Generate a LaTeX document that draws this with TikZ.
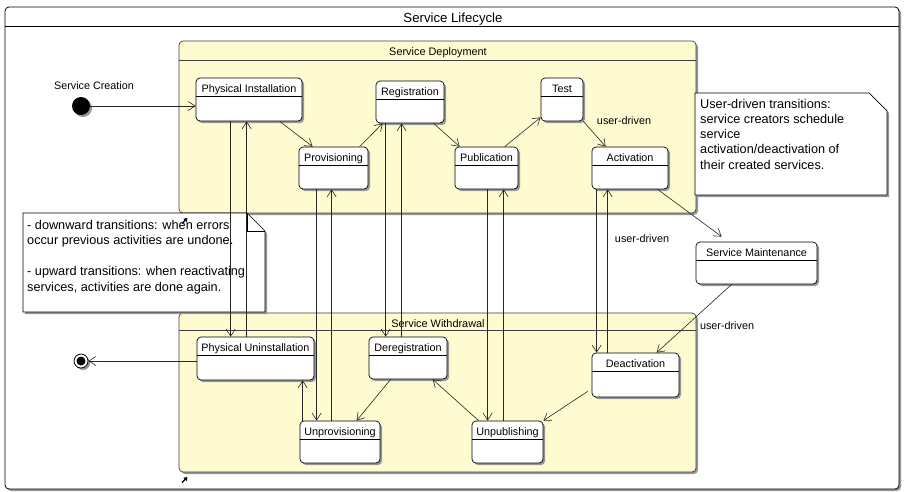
\documentclass[tikz,border=0pt]{standalone}
\usepackage{fontspec}
\setmainfont{Liberation Sans}
\usetikzlibrary{arrows.meta,shadows,fit,calc}
\definecolor{compfill}{RGB}{255,251,208}
\definecolor{shadowc}{RGB}{150,150,150}
\newcommand\stbox[6]{%
  \node[statebox, fit={(#2,#3) (#4,#5)}] (#1) {};
  \draw[hl] ([yshift=-18.5pt]#1.north west) -- ([yshift=-18.5pt]#1.north east);
  \node[stxt] (#1-t) at ([yshift=-15pt]#1.north) {#6};
}
\begin{document}
\begin{tikzpicture}[x=1pt,y=-1pt,
  shd/.style={drop shadow={shadow xshift=2pt,shadow yshift=-2pt,fill=shadowc,opacity=1}},
  statebox/.style={draw=black, line width=0.7pt, fill=white, rounded corners=4pt, inner sep=0pt, shd},
  comp/.style={draw=black!75, line width=0.7pt, fill=compfill, rounded corners=4pt, inner sep=0pt, shd},
  notebox/.style={draw=black, line width=0.7pt, fill=white, shd},
  stxt/.style={font=\fontsize{10.8}{12}\selectfont, anchor=base, inner sep=0pt},
  ntxt/.style={font=\fontsize{12.7}{15}\selectfont, anchor=base west, inner sep=0pt},
  tr/.style={draw=black!85, line width=0.6pt, -{Straight Barb[length=7pt,width=9pt]}},
  hl/.style={draw=black, line width=0.7pt},
  icon/.style={line width=1.3pt, -{Triangle[length=3.5pt,width=4.5pt]}}
]
\useasboundingbox (0,0) rectangle (904,491);

% outer frame
\node[draw=black, line width=0.8pt, fill=white, rounded corners=4pt, inner sep=0pt, shd, fit={(5,7) (899,489)}] (frame) {};
\draw[hl] ([yshift=-20pt]frame.north west) -- ([yshift=-20pt]frame.north east);
\node[font=\fontsize{13.2}{15}\selectfont, anchor=base, inner sep=0pt] (title) at (453,22.5) {Service Lifecycle};

% composites
\node[comp, fit={(179,41) (696,213)}] (dep) {};
\draw[draw=black!75, line width=0.7pt] ([yshift=-19.5pt]dep.north west) -- ([yshift=-19.5pt]dep.north east);
\node[stxt, font=\fontsize{10.9}{12}\selectfont] (dept) at (438,55.5) {Service Deployment};
\node[comp, fit={(179,313) (696,472)}] (wd) {};
\draw[draw=black!75, line width=0.7pt] ([yshift=-18pt]wd.north west) -- ([yshift=-18pt]wd.north east);
\node[stxt, font=\fontsize{10.9}{12}\selectfont] (wdt) at (438,327) {Service Withdrawal};

% notes
\path[notebox] (695,93) -- (869,93) -- (887,111) -- (887,195) -- (695,195) -- cycle;
\foreach \l [count=\i] in {User-driven transitions:, service creators schedule, service, activation/deactivation of, their created services.}
  \node[ntxt] (rn\i) at (700,{108.3+15.2*(\i-1)}) {\l};
\path[notebox] (23,213) -- (247,213) -- (265,231) -- (265,312) -- (23,312) -- cycle;
\draw[line width=0.6pt] (247,213) -- (247,231) -- (265,231);
\node[ntxt] (ln1) at (27,229.3) {- downward transitions: when errors};
\node[ntxt] (ln2) at (27,244.8) {occur previous activities are undone.};
\node[ntxt] (ln3) at (27,275.8) {- upward transitions: when reactivating};
\node[ntxt] (ln4) at (27,291.3) {services, activities are done again.};

% decomposition icons
\draw[icon] (182,223.5) -- (187.5,218);
\draw[icon] (182,482.5) -- (187.5,477);

% initial / final
\node[circle, fill=black, minimum size=18pt, inner sep=0pt, shd] (init) at (81,106) {};
\node[stxt] (lc) at (94,89) {Service Creation};
\node[circle, draw=black, line width=0.8pt, fill=white, minimum size=14pt, inner sep=0pt, shd] (final) at (81,361) {};
\node[circle, fill=black, minimum size=9pt, inner sep=0pt] (finalin) at (final) {};

% states
\stbox{pi}{196}{78}{302}{121}{Physical Installation}
\stbox{pv}{299}{147}{368}{189}{Provisioning}
\stbox{rg}{376}{81}{444}{123}{Registration}
\stbox{ts}{541}{78}{583}{121}{Test}
\stbox{pb}{455}{147}{518}{189}{Publication}
\stbox{ac}{592}{147}{668}{189}{Activation}
\stbox{sm}{696}{242}{817}{284}{Service Maintenance}
\stbox{pu}{197}{337}{314}{380}{Physical Uninstallation}
\stbox{un}{300}{421}{380}{463}{Unprovisioning}
\stbox{dr}{369}{337}{447}{379}{Deregistration}
\stbox{ub}{472}{421}{543}{463}{Unpublishing}
\stbox{de}{592}{353}{679}{397}{Deactivation}

% transitions
\draw[tr] (init) -- (init -| pi.west);
\draw[tr] ([xshift=84pt]pi.south west) -- ([xshift=14pt]pv.north west);
\draw[tr] ([xshift=61pt]pv.north west) -- ([xshift=7pt]rg.south west);
\draw[tr] ([xshift=58pt]rg.south west) -- ([xshift=5pt]pb.north west);
\draw[tr] ([xshift=50pt]pb.north west) -- ([yshift=4pt]ts.south west);
\draw[tr] (ts.south east) -- ([xshift=14pt]ac.north west);
\draw[tr] ([xshift=66pt]ac.south west) -- ([xshift=26pt,yshift=5pt]sm.north west);
\draw[tr] ([xshift=36pt]sm.south west) -- ([xshift=65pt]de.north west);

\coordinate (v1) at ([xshift=35pt]pi.south west);
\coordinate (v2) at ([xshift=51pt]pi.south west);
\coordinate (v3) at ([xshift=18pt]pv.south west);
\coordinate (v4) at ([xshift=33pt]pv.south west);
\coordinate (v5) at ([xshift=10pt]rg.south west);
\coordinate (v6) at ([xshift=26pt]rg.south west);
\coordinate (v7) at ([xshift=33pt]pb.south west);
\coordinate (v8) at ([xshift=49pt]pb.south west);
\coordinate (v9) at ([xshift=5pt]ac.south west);
\coordinate (v10) at ([xshift=16pt]ac.south west);
\coordinate (v11) at ([xshift=3pt]un.north west);
\draw[tr] (v1) -- (v1 |- pu.north);
\draw[tr] (v2 |- pu.north) -- (v2);
\draw[tr] (v3) -- (v3 |- un.north);
\draw[tr] (v4 |- un.north) -- (v4);
\draw[tr] (v5) -- (v5 |- dr.north);
\draw[tr] (v6 |- dr.north) -- (v6);
\draw[tr] (v7) -- (v7 |- ub.north);
\draw[tr] (v8 |- ub.north) -- (v8);
\draw[tr] (v9) -- (v9 |- de.north);
\draw[tr] (v10 |- de.north) -- (v10);
\draw[tr] (v11) -- (v11 |- pu.south);

\draw[tr] ([xshift=22pt]dr.south west) -- ([xshift=57pt]un.north west);
\draw[tr] ([xshift=7pt]ub.north west) -- ([xshift=64pt]dr.south west);
\draw[tr] ([xshift=-4pt,yshift=6pt]de.south west) -- (ub.north east);
\draw[tr] (pu.west |- final) -- (final);

% labels
\node[stxt] (ud1) at (624,124) {user-driven};
\node[stxt] (ud2) at (642,242.5) {user-driven};
\node[stxt] (ud3) at (727,329) {user-driven};
\end{tikzpicture}
\end{document}
